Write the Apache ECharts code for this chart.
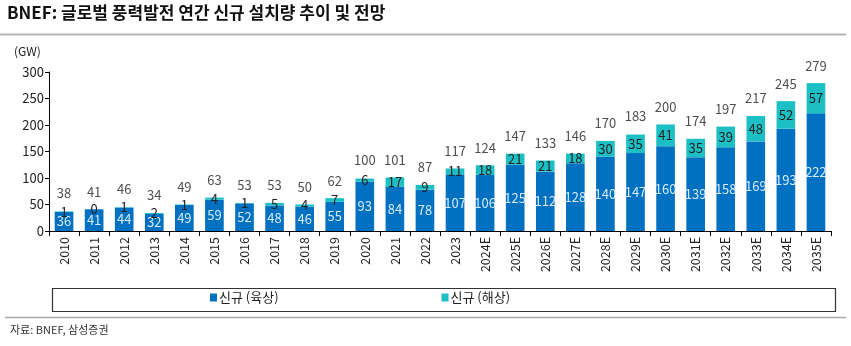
<!DOCTYPE html>
<html>
<head>
<meta charset="utf-8">
<script src="https://cdn.jsdelivr.net/npm/echarts@6/dist/echarts.min.js"></script>
<style>
html,body{margin:0;padding:0;background:#fff;}
#c{width:851px;height:346px;}
</style>
</head>
<body>
<div id="c"></div>
<script>
const categories = ['2010','2011','2012','2013','2014','2015','2016','2017','2018','2019','2020','2021','2022','2023','2024E','2025E','2026E','2027E','2028E','2029E','2030E','2031E','2032E','2033E','2034E','2035E'];
const onshore = [36,41,44,32,49,59,52,48,46,55,93,84,78,107,106,125,112,128,140,147,160,139,158,169,193,222];
const offshore = [1,0,1,2,1,4,1,5,4,7,6,17,9,11,18,21,21,18,30,35,41,35,39,48,52,57];
const totals = [38,41,46,34,49,63,53,53,50,62,100,101,87,117,124,147,133,146,170,183,200,174,197,217,245,279];
const yTicks = [0,50,100,150,200,250,300];

const FONT = '"Noto Sans CJK KR", "Noto Sans", sans-serif';
const chart = echarts.init(document.getElementById('c'));
chart.setOption({
  animation: false,
  textStyle: {fontFamily: FONT},
  grid: {left: 49, right: 20, top: 72, bottom: 115, containLabel: false},
  legend: {
    data: ['신규 (육상)', '신규 (해상)'],
    left: 210, top: 291, padding: 0,
    itemWidth: 7, itemHeight: 8, itemGap: 163,
    icon: 'rect',
    textStyle: {fontSize: 13, color: '#222', fontFamily: FONT, padding: [0,0,0,-3]}
  },
  xAxis: {
    type: 'category',
    data: categories,
    axisLine: {lineStyle: {color: '#000', width: 1}},
    axisTick: {show: true, length: 5, lineStyle: {color: '#000'}},
    axisLabel: {rotate: 90, fontSize: 12.5, color: '#222', margin: 6, fontFamily: FONT}
  },
  yAxis: {
    type: 'value', min: 0, max: 300, interval: 50,
    axisLine: {show: true, lineStyle: {color: '#000', width: 1}},
    axisTick: {show: true, length: 4, lineStyle: {color: '#000'}},
    splitLine: {show: false},
    axisLabel: {fontSize: 13, color: '#222', margin: 5, fontFamily: FONT,
      formatter: v => yTicks.includes(v) ? String(v) : ''}
  },
  series: [
    {
      name: '신규 (육상)', type: 'bar', stack: 'a', data: onshore, barWidth: '62%',
      itemStyle: {color: '#0070C0'},
      label: {show: true, position: 'inside', color: '#d6ebff', fontSize: 13, fontFamily: FONT}
    },
    {
      name: '신규 (해상)', type: 'bar', stack: 'a', data: offshore, barWidth: '62%',
      itemStyle: {color: '#1CC0C4'},
      label: {show: true, position: 'inside', color: '#222', fontSize: 13, fontFamily: FONT}
    },
    {
      name: 'total', type: 'scatter', data: totals, symbolSize: 0, silent: true,
      label: {show: true, position: 'top', distance: 11, color: '#222', fontSize: 13, fontFamily: FONT,
        formatter: p => String(p.value)}
    }
  ],
  graphic: [
    {type: 'text', left: 14, top: 45, style: {text: '(GW)', fontSize: 12, fill: '#222', fontFamily: FONT}},
    {type: 'text', left: 7, top: 4, style: {text: 'BNEF: 글로벌 풍력발전 연간 신규 설치량 추이 및 전망', fontSize: 17, fontWeight: 'bold', fill: '#111', fontFamily: FONT}},
    {type: 'line', shape: {x1: 0, y1: 34.5, x2: 846, y2: 34.5}, style: {stroke: '#b5b5b5', lineWidth: 2}},
    {type: 'rect', shape: {x: 52.5, y: 288.5, width: 783, height: 23}, style: {fill: 'none', stroke: '#333', lineWidth: 1.2}},
    {type: 'line', shape: {x1: 5, y1: 317.5, x2: 846, y2: 317.5}, style: {stroke: '#aaaaaa', lineWidth: 1.5}},
    {type: 'text', left: 10, top: 324, style: {text: '자료: BNEF, 삼성증권', fontSize: 11, fill: '#333', fontFamily: FONT}}
  ]
});
</script>
</body>
</html>
